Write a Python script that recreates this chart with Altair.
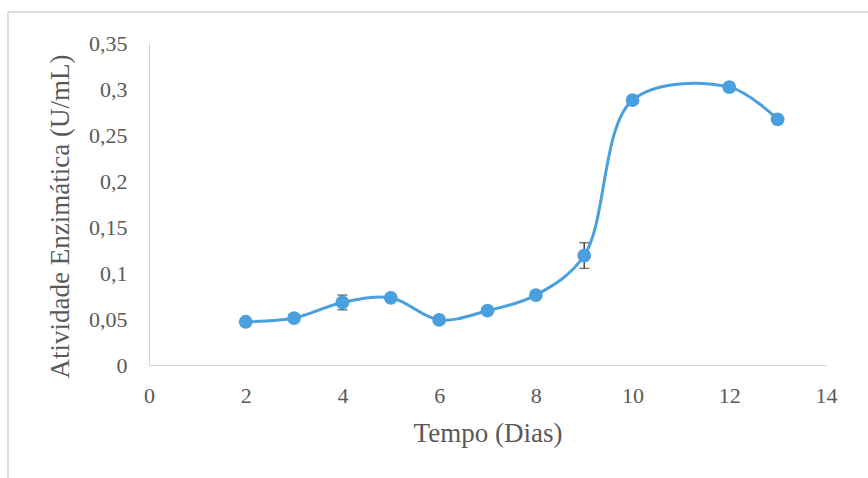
import altair as alt
import pandas as pd

dias = [2, 3, 4, 5, 6, 7, 8, 9, 10, 12, 13]
atividade = [0.047, 0.051, 0.068, 0.073, 0.049, 0.059, 0.076, 0.119, 0.288, 0.302, 0.267]
erro = [0.002, 0.002, 0.008, 0.003, 0.002, 0.002, 0.002, 0.014, 0.003, 0.002, 0.002]
erro_visivel = [False, False, True, False, False, False, False, True, False, False, False]

df = pd.DataFrame({"dia": dias, "ativ": atividade, "err": erro, "vis": erro_visivel})
df["lo"] = df["ativ"] - df["err"]
df["hi"] = df["ativ"] + df["err"]

FONT = "'Liberation Serif', 'Times New Roman', 'DejaVu Serif', serif"
BLUE = "#4A9FDE"
GRAY = "#595959"

xs = alt.Scale(domain=[0, 14], nice=False)
ys = alt.Scale(domain=[0, 0.35], nice=False)

x_axis = alt.Axis(values=[0, 2, 4, 6, 8, 10, 12, 14], title="Tempo (Dias)", grid=False,
                  ticks=False, domainColor="#d0d0d0", labelPadding=20, titlePadding=14,
                  labelFlush=False,
                  labelFont=FONT, titleFont=FONT, labelFontSize=22, titleFontSize=27,
                  labelColor=GRAY, titleColor=GRAY, titleFontWeight="normal")
y_axis = alt.Axis(values=[0, 0.05, 0.1, 0.15, 0.2, 0.25, 0.3, 0.35], title="Atividade Enzimática (U/mL)",
                  grid=False, ticks=False, domainColor="#d0d0d0", labelPadding=22, titlePadding=14,
                  labelFlush=False, titleY=173,
                  labelExpr="replace(format(datum.value, '.2~f'), '.', ',')",
                  labelFont=FONT, titleFont=FONT, labelFontSize=22, titleFontSize=27,
                  labelColor=GRAY, titleColor=GRAY, titleFontWeight="normal")

base = alt.Chart(df)

line = base.mark_line(color=BLUE, strokeWidth=3, interpolate="catmull-rom").encode(
    x=alt.X("dia:Q", scale=xs, axis=x_axis),
    y=alt.Y("ativ:Q", scale=ys, axis=y_axis),
)

err_df = base.transform_filter("datum.vis")
err_rule = err_df.mark_rule(color="#444444", strokeWidth=1.5).encode(
    x=alt.X("dia:Q", scale=xs), y=alt.Y("lo:Q", scale=ys), y2="hi:Q")
cap_lo = err_df.mark_tick(color="#444444", thickness=1.5, size=10, orient="horizontal").encode(
    x=alt.X("dia:Q", scale=xs), y=alt.Y("lo:Q", scale=ys))
cap_hi = err_df.mark_tick(color="#444444", thickness=1.5, size=10, orient="horizontal").encode(
    x=alt.X("dia:Q", scale=xs), y=alt.Y("hi:Q", scale=ys))

pts = base.mark_circle(color=BLUE, size=190, opacity=1).encode(
    x=alt.X("dia:Q", scale=xs), y=alt.Y("ativ:Q", scale=ys))

frame_top = alt.Chart(pd.DataFrame({"a": [0]})).mark_rule(color="#dcdcdc", strokeWidth=2).encode(
    x=alt.value(-141), x2=alt.value(740), y=alt.value(-31))
frame_left = alt.Chart(pd.DataFrame({"a": [0]})).mark_rule(color="#dcdcdc", strokeWidth=2).encode(
    x=alt.value(-141), y=alt.value(-31), y2=alt.value(460))

chart = alt.layer(frame_top, frame_left, line, err_rule, cap_lo, cap_hi, pts).properties(
    width=677, height=322,
    autosize=alt.AutoSizeParams(type="none"),
    padding={"left": 149, "top": 43, "right": 42, "bottom": 113},
).configure(background="white", font=FONT).configure_view(stroke=None)

chart.save("out.html", embed_options={"renderer": "svg", "actions": False})
